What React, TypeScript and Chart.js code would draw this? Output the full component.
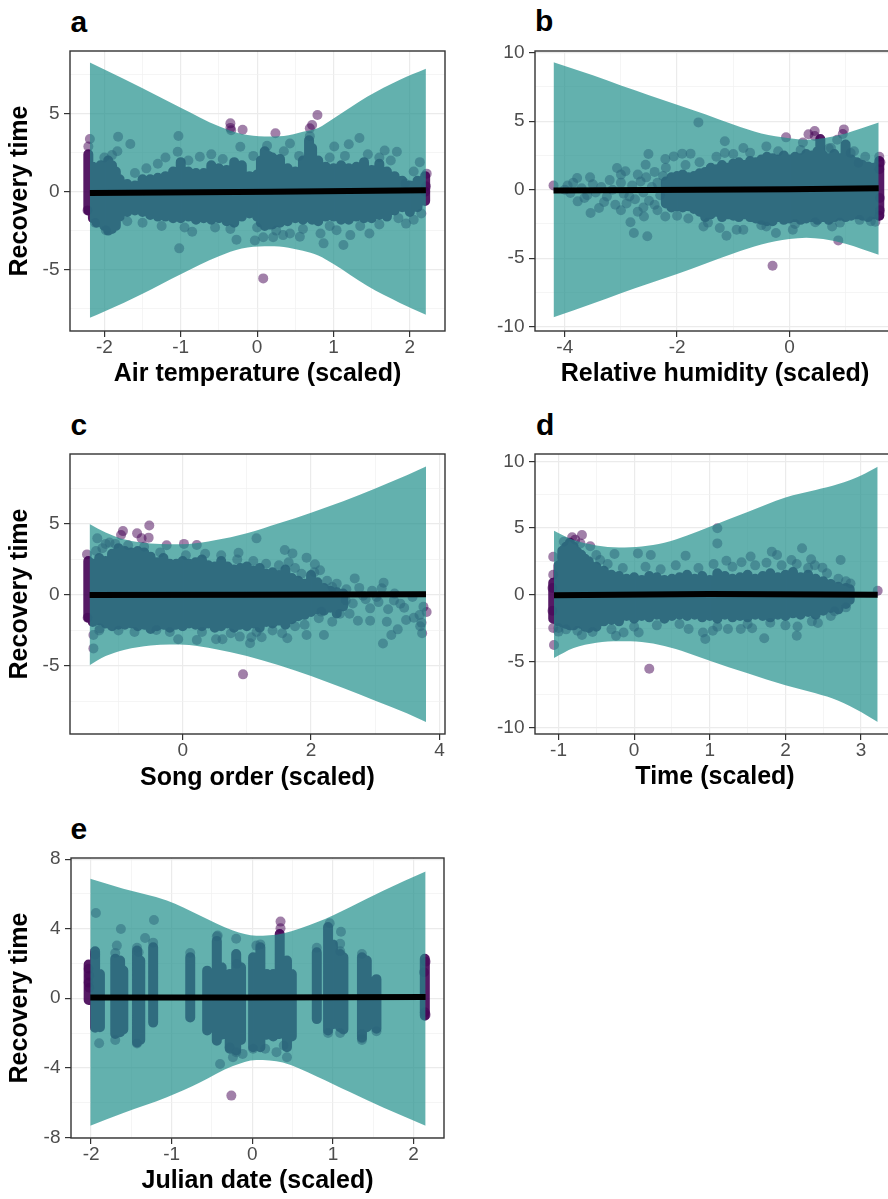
import React, { useEffect, useRef } from "react";
import { Chart, registerables } from "chart.js";
Chart.register(...registerables);

const FONT = '"Liberation Sans", Arial, Helvetica, sans-serif';
Chart.defaults.font.family = FONT;

const POINT_COLOR = "rgba(68,1,84,0.5)";
const CLOUD_COLOR = "rgba(68,1,84,0.9)";
const RIBBON_COLOR = "rgba(33,144,140,0.7)";

type Pair = [number, number];
type Triple = [number, number, number];

const Y_TITLE = "Recovery time";

// ---------------- Panel a : Air temperature ----------------
const aXTitle = "Air temperature (scaled)";
const aXRange: Pair = [-2.45, 2.46];
const aYRange: Pair = [-8.95, 9.04];
const aXMajor = [-2, -1, 0, 1, 2];
const aXMinor = [-1.5, -0.5, 0.5, 1.5];
const aYMajor = [-5, 0, 5];
const aYMinor = [-7.5, -2.5, 2.5, 7.5];
// [x, lower, upper]
const aRibbon: Triple[] = [
  [-2.19, -8.1, 8.3], [-2.0, -7.7, 7.85], [-1.5, -6.55, 6.65], [-1.0, -5.3, 5.4], [-0.5, -4.15, 4.2],
  [-0.2, -3.65, 3.7], [0.1, -3.5, 3.55], [0.35, -3.55, 3.58], [0.6, -3.8, 3.85], [0.8, -4.1, 4.1],
  [1.0, -4.65, 4.7], [1.44, -6.05, 6.1], [1.87, -7.15, 7.2], [2.21, -7.9, 7.9],
];
const aFit: Pair[] = [[-2.19, -0.08], [0.2, 0.0], [2.21, 0.1]];
// dense cloud columns [x, low, high]
const aCloud: Triple[] = [
  [-2.21, -1.2, 2.4], [-2.15, -1.7, 1.6], [-2.1, -2.0, 1.3], [-2.05, -1.9, 1.7], [-2.0, -2.2, 1.5],
  [-1.95, -2.5, 2.0], [-1.9, -2.4, 1.7], [-1.85, -2.2, 1.3], [-1.8, -1.6, 0.8], [-1.7, -1.3, 0.5],
  [-1.6, -1.2, 0.4], [-1.5, -1.3, 0.8], [-1.4, -1.5, 0.8], [-1.3, -1.6, 0.9], [-1.2, -1.6, 1.0],
  [-1.1, -1.7, 1.3], [-1.0, -1.7, 1.9], [-0.9, -1.6, 1.3], [-0.8, -1.8, 1.2], [-0.7, -1.7, 1.2],
  [-0.6, -1.8, 1.7], [-0.5, -1.7, 1.5], [-0.4, -1.9, 1.4], [-0.3, -2.0, 1.9], [-0.2, -1.6, 1.7],
  [-0.1, -1.4, 1.0], [0.0, -1.6, 1.1], [0.05, -2.0, 2.0], [0.1, -2.2, 2.6], [0.15, -2.1, 2.3],
  [0.2, -2.1, 2.2], [0.3, -2.0, 2.1], [0.4, -1.9, 1.5], [0.5, -1.7, 1.3], [0.6, -1.8, 2.0],
  [0.68, -1.6, 3.3], [0.72, -1.8, 2.8], [0.8, -1.9, 2.0], [0.9, -1.6, 1.6], [1.0, -1.6, 1.5],
  [1.1, -1.8, 1.7], [1.2, -1.8, 1.5], [1.3, -1.6, 1.6], [1.4, -1.7, 1.9], [1.5, -1.7, 1.4],
  [1.6, -1.5, 1.8], [1.7, -1.6, 1.3], [1.8, -1.2, 1.0], [1.9, -1.0, 0.7], [2.0, -1.3, 0.4],
  [2.1, -1.0, 0.7], [2.2, -0.6, 1.0],
];
const aPoints: Pair[] = [
  [-0.35, 4.39], [-0.35, 4.1], [-0.34, 3.95], [-0.19, 3.98], [0.24, 3.76], [0.69, 4.07], [0.72, 4.29],
  [0.79, 4.93], [0.08, -5.57], [2.22, 1.16], [2.2, 0.0], [2.21, 0.35], [-2.19, 3.39], [-2.21, 2.9], [-2.22, -1.2],
  [-1.82, 3.53], [-1.66, 3.07], [-1.83, 2.6], [-1.03, 3.58], [-1.04, 2.57], [-0.75, 2.25], [-0.22, 2.89],
  [0.13, 2.95], [0.43, 3.1], [0.69, 3.57], [1.01, 2.9], [1.34, 3.45], [1.2, 3.05], [1.83, 2.57], [1.67, 2.65],
  [2.13, 1.9], [1.94, 0.53], [-2.12, -1.99], [-1.98, -2.47], [-1.02, -3.64], [-0.85, -2.57], [-0.27, -3.08],
  [-0.03, -3.13], [0.08, -2.93], [0.21, -2.93], [0.34, -2.79], [0.43, -2.68], [0.87, -3.32], [0.83, -2.68],
  [1.04, -2.47], [1.13, -3.43], [1.22, -2.79], [1.47, -2.68], [1.95, -2.05], [0.56, -2.9],
  [-1.6, 1.2], [-1.45, 1.5], [-1.3, 1.8], [-1.2, 2.2], [-0.9, 2.0], [-0.6, 2.4], [-0.45, 2.1], [-0.05, 2.3],
  [0.35, 2.6], [0.55, 2.3], [0.95, 2.2], [1.15, 2.3], [1.45, 2.4], [1.6, 2.2], [1.75, 2.0], [2.05, 1.3],
  [-1.7, -1.9], [-1.5, -2.0], [-1.25, -2.2], [-0.95, -2.3], [-0.55, -2.3], [-0.35, -2.4], [0.25, -2.5],
  [0.6, -2.4], [0.95, -2.2], [1.35, -2.2], [1.6, -2.1], [1.85, -1.7], [2.05, -1.8], [2.15, -1.4],
  [-2.0, 2.2], [-1.9, 2.35], [0.0, -2.3],
];

// ---------------- Panel b : Relative humidity ----------------
const bXTitle = "Relative humidity (scaled)";
const bXRange: Pair = [-4.53, 1.88];
const bYRange: Pair = [-10.31, 10.12];
const bXMajor = [-4, -2, 0];
const bXMinor = [-3, -1, 1];
const bYMajor = [-10, -5, 0, 5, 10];
const bYMinor = [-7.5, -2.5, 2.5, 7.5];
const bRibbon: Triple[] = [
  [-4.2, -9.3, 9.3], [-3.5, -8.3, 8.35], [-3.0, -7.55, 7.6], [-2.5, -6.85, 6.9], [-2.0, -6.15, 6.2],
  [-1.5, -5.4, 5.5], [-1.0, -4.65, 4.75], [-0.5, -4.0, 4.1], [0.0, -3.6, 3.75], [0.3, -3.5, 3.65],
  [0.6, -3.6, 3.75], [1.0, -3.95, 4.1], [1.3, -4.35, 4.5], [1.59, -4.75, 4.9],
];
const bFit: Pair[] = [[-4.2, -0.05], [0.0, 0.03], [1.59, 0.1]];
const bCloud: Triple[] = [
  [-2.2, -1.0, 0.6], [-2.1, -1.3, 0.9], [-2.0, -1.2, 1.0], [-1.9, -1.3, 1.1], [-1.8, -1.2, 0.9],
  [-1.7, -1.4, 1.0], [-1.6, -1.6, 1.2], [-1.5, -2.0, 1.3], [-1.4, -1.8, 1.6], [-1.3, -1.6, 1.5],
  [-1.2, -2.0, 1.8], [-1.1, -1.8, 1.6], [-1.0, -1.9, 1.9], [-0.9, -2.0, 2.0], [-0.8, -1.8, 1.8],
  [-0.7, -2.0, 2.1], [-0.6, -2.1, 2.0], [-0.5, -2.2, 2.2], [-0.4, -2.3, 2.4], [-0.3, -2.3, 2.3],
  [-0.2, -2.0, 2.2], [-0.1, -2.2, 2.5], [0.0, -2.1, 2.2], [0.1, -2.0, 2.4], [0.2, -2.2, 2.3],
  [0.3, -2.1, 2.6], [0.4, -2.0, 2.5], [0.5, -2.2, 2.8], [0.55, -2.0, 3.7], [0.6, -2.0, 2.5],
  [0.7, -2.2, 2.3], [0.8, -2.0, 2.6], [0.9, -1.9, 2.3], [1.0, -2.0, 3.3], [1.1, -1.9, 2.2],
  [1.2, -1.8, 2.0], [1.3, -1.9, 1.8], [1.4, -2.0, 1.7], [1.5, -1.8, 1.6], [1.6, -1.9, 2.1],
];
const bPoints: Pair[] = [
  [-4.2, 0.31], [-1.62, 4.91], [-0.06, 3.82], [0.34, 4.04], [0.45, 4.28], [0.45, 3.92], [0.97, 4.4],
  [0.95, 4.07], [-0.3, -5.55], [0.87, -3.7], [1.6, 2.4], [1.62, 2.0], [1.6, -1.9], [1.61, -1.5],
  [1.6, 1.5], [1.61, -0.6],
  [-3.78, 0.85], [-3.9, -0.24], [-3.77, -0.85], [-3.54, -1.7], [-3.39, -1.34], [-3.07, 1.58],
  [-2.92, 1.34], [-2.83, -2.38], [-2.77, -3.16], [-2.53, -3.4], [-2.59, -1.95], [-2.56, 1.82],
  [-2.51, 2.6], [-2.21, 2.24], [-2.06, 2.43], [-1.91, 2.63], [-1.76, 2.63], [-2.21, -1.95],
  [-1.53, -2.68], [-1.24, -2.8], [-1.12, -3.36], [-1.15, 3.53], [-1.15, 2.68], [-0.94, -2.92],
  [-0.82, -2.92], [-0.82, 3.04], [-0.41, 3.16], [-0.41, -2.68], [-0.24, -3.16], [0.24, 3.45],
  [0.06, -2.92], [0.46, -2.38], [0.74, 3.04], [0.85, 3.65], [1.09, 2.68], [1.23, 1.95],
  [0.76, -2.68], [1.53, -2.34],
  [-4.0, 0.0], [-3.85, 0.5], [-3.6, -0.4], [-3.3, -0.9], [-3.2, 0.7], [-3.0, 1.1], [-2.85, -0.5],
  [-2.7, 1.1], [-2.6, -1.3], [-2.4, 1.3], [-2.35, -1.5], [-2.2, 1.6], [-2.0, -1.9], [-1.85, 1.8],
  [-1.8, -2.1], [-1.6, 2.0], [-1.45, -2.4], [-1.3, 2.4], [-1.0, 2.6], [-0.7, 2.7], [-0.5, -2.6],
  [-0.2, 2.8], [0.1, -2.5], [0.2, 2.9], [0.7, 3.0], [1.15, 2.8], [1.35, 2.4], [1.45, -2.3],
  [0.9, -2.4], [1.25, -2.2],
  [-3.95, 0.3], [-3.7, 0.1], [-3.65, -0.6], [-3.5, 0.4], [-3.45, -0.2], [-3.35, 0.2], [-3.25, -0.5],
  [-3.15, 0.0], [-3.1, -1.1], [-3.0, 0.5], [-2.95, -0.3], [-2.9, -1.0], [-2.8, 0.3], [-2.75, -0.7],
  [-2.65, 0.6], [-2.6, -0.2], [-2.55, 0.9], [-2.5, -0.8], [-2.45, 0.2], [-2.4, -1.1], [-2.35, 0.5],
  [-2.3, -0.4], [-2.25, 1.0], [-3.55, 0.9], [-3.0, -1.5], [-2.7, -1.6],
];

// ---------------- Panel c : Song order ----------------
const cXTitle = "Song order (scaled)";
const cXRange: Pair = [-1.755, 4.086];
const cYRange: Pair = [-9.79, 9.93];
const cXMajor = [0, 2, 4];
const cXMinor = [-1, 1, 3];
const cYMajor = [-5, 0, 5];
const cYMinor = [-7.5, -2.5, 2.5, 7.5];
const cRibbon: Triple[] = [
  [-1.45, -4.95, 5.0], [-1.2, -4.3, 4.4], [-0.9, -3.85, 3.9], [-0.5, -3.55, 3.62], [-0.2, -3.48, 3.58],
  [0.1, -3.52, 3.6], [0.5, -3.8, 3.85], [1.0, -4.3, 4.35], [1.5, -4.95, 5.05], [2.0, -5.7, 5.8],
  [2.5, -6.55, 6.6], [3.0, -7.45, 7.5], [3.5, -8.35, 8.45], [3.79, -8.95, 9.05],
];
const cFit: Pair[] = [[-1.45, 0.0], [1.0, 0.02], [3.79, 0.05]];
const cCloud: Triple[] = [
  [-1.47, -1.6, 2.4], [-1.4, -1.9, 2.2], [-1.3, -1.8, 2.6], [-1.2, -2.0, 2.4], [-1.1, -2.2, 2.9],
  [-1.0, -2.1, 3.3], [-0.9, -2.1, 3.1], [-0.8, -2.0, 3.0], [-0.7, -2.2, 3.1], [-0.6, -2.1, 3.0],
  [-0.5, -2.4, 2.7], [-0.4, -2.2, 2.3], [-0.3, -2.1, 2.6], [-0.2, -2.3, 2.2], [-0.1, -2.1, 2.2],
  [0.0, -2.2, 2.4], [0.1, -2.0, 2.2], [0.2, -2.1, 2.3], [0.3, -2.2, 2.5], [0.4, -2.0, 2.1],
  [0.5, -2.3, 2.0], [0.6, -2.2, 2.4], [0.7, -2.0, 2.0], [0.8, -2.3, 1.8], [0.9, -2.1, 1.9],
  [1.0, -2.2, 2.0], [1.1, -2.0, 1.7], [1.2, -2.3, 1.9], [1.3, -1.9, 1.5], [1.4, -2.0, 1.6],
  [1.5, -1.8, 1.4], [1.6, -2.1, 1.8], [1.7, -1.7, 1.2], [1.8, -1.5, 1.0], [1.9, -1.4, 0.8],
  [2.0, -1.2, 1.4], [2.1, -1.0, 0.9], [2.2, -1.1, 0.5], [2.3, -0.9, 0.3], [2.4, -1.3, 0.2],
  [2.5, -0.8, 0.1],
];
const cPoints: Pair[] = [
  [-0.93, 4.5], [-0.96, 4.22], [-0.71, 4.34], [-0.64, 3.99], [-0.52, 4.9], [-0.53, 4.04], [0.94, -5.59],
  [3.8, -1.2], [3.75, -0.83], [-0.25, 3.5], [0.02, 3.6], [0.22, 3.52], [-1.49, 2.86], [-1.48, -1.6],
  [-1.33, 3.99], [-1.2, 3.6], [-1.14, 3.69], [-1.39, -2.82], [-1.39, -3.76], [-1.29, -2.35], [-0.41, -2.46],
  [-0.07, -3.12], [0.22, -3.17], [0.52, -3.12], [0.62, -3.12], [0.89, -2.93], [1.07, -2.98], [1.23, -2.98],
  [1.05, -3.4], [1.59, 3.17], [1.71, 2.93], [1.93, 2.63], [1.15, 3.99], [0.87, 2.98], [1.63, -3.05],
  [1.93, -2.82], [2.2, -2.82], [2.06, 2.16], [2.14, 1.74], [2.68, 1.17], [3.13, 0.87], [3.1, 0.47],
  [2.92, -0.94], [2.92, -1.81], [3.18, -1.88], [3.12, -3.41], [3.25, -2.82], [3.35, -2.42], [3.48, -1.76],
  [3.73, -2.7], [3.72, -1.95], [3.69, -1.41], [3.58, -0.14], [3.39, -0.61], [2.6, -1.32], [2.73, -1.81],
  [2.54, -0.38], [2.33, 0.56], [2.45, -1.32], [2.81, -0.05], [3.02, -0.14], [3.29, -0.38], [2.33, -1.88],
  [2.12, -1.64], [2.16, -1.17],
  [-1.35, 3.1], [-1.25, 3.3], [-1.05, 3.6], [-0.85, 3.5], [-0.6, 3.4], [-0.35, 3.0], [0.05, 2.8],
  [0.35, 2.9], [0.6, 2.8], [0.85, 2.5], [1.1, 2.4], [1.3, 2.2], [1.5, 2.1], [1.65, 2.3], [1.75, 1.9],
  [1.85, 1.5], [-1.3, -2.5], [-1.0, -2.5], [-0.75, -2.6], [-0.2, -2.6], [0.3, -2.6], [0.75, -2.7],
  [1.15, -2.6], [1.4, -2.5], [1.55, -2.7], [1.75, -2.2], [1.9, -2.1], [2.05, 1.6], [2.25, 1.0],
  [2.4, 0.8], [2.55, 0.4], [2.65, -0.6], [2.75, 0.5], [2.85, -0.3], [2.95, 0.3], [3.05, -0.5],
  [3.2, -1.0], [3.3, 0.1], [3.45, -0.9], [3.6, -1.6], [3.7, -2.2],
];

// ---------------- Panel d : Time ----------------
const dXTitle = "Time (scaled)";
const dXRange: Pair = [-1.311, 3.449];
const dYRange: Pair = [-10.45, 10.555];
const dXMajor = [-1, 0, 1, 2, 3];
const dXMinor = [-0.5, 0.5, 1.5, 2.5];
const dYMajor = [-10, -5, 0, 5, 10];
const dYMinor = [-7.5, -2.5, 2.5, 7.5];
const dRibbon: Triple[] = [
  [-1.06, -4.75, 4.8], [-0.8, -4.0, 4.1], [-0.5, -3.6, 3.7], [-0.2, -3.5, 3.55], [0.1, -3.55, 3.62],
  [0.4, -3.85, 3.9], [0.7, -4.35, 4.45], [1.0, -4.95, 5.1], [1.5, -5.9, 6.2], [2.0, -6.8, 7.3],
  [2.4, -7.4, 7.85], [2.7, -7.95, 8.3], [3.0, -8.8, 8.95], [3.22, -9.55, 9.6],
];
const dFit: Pair[] = [[-1.06, -0.05], [1.0, 0.05], [3.22, 0.0]];
const dCloud: Triple[] = [
  [-1.07, -1.8, 0.9], [-1.0, -2.0, 2.2], [-0.95, -2.1, 3.3], [-0.9, -2.2, 3.6], [-0.85, -2.3, 3.9],
  [-0.8, -2.3, 3.6], [-0.75, -2.1, 3.2], [-0.7, -2.2, 3.0], [-0.65, -2.4, 2.7], [-0.6, -2.5, 2.5],
  [-0.5, -2.4, 2.1], [-0.4, -2.0, 1.8], [-0.3, -1.9, 1.5], [-0.2, -2.0, 1.4], [-0.1, -1.6, 1.2],
  [0.0, -1.8, 1.3], [0.1, -1.6, 1.1], [0.2, -1.7, 1.4], [0.3, -1.5, 1.3], [0.4, -1.8, 1.1],
  [0.5, -1.6, 1.2], [0.6, -1.5, 1.3], [0.7, -1.6, 1.5], [0.8, -1.5, 1.2], [0.9, -1.7, 1.4],
  [1.0, -1.6, 1.1], [1.1, -1.8, 1.6], [1.2, -1.5, 1.4], [1.3, -1.7, 1.2], [1.4, -1.6, 1.3],
  [1.5, -1.7, 1.5], [1.6, -1.5, 1.2], [1.7, -1.6, 1.4], [1.8, -1.7, 1.6], [1.9, -1.5, 1.3],
  [2.0, -1.6, 1.5], [2.1, -1.4, 1.7], [2.2, -1.5, 1.3], [2.3, -1.3, 1.5], [2.4, -1.5, 1.2],
  [2.5, -1.2, 1.0], [2.6, -1.0, 0.8], [2.7, -1.1, 0.6], [2.8, -0.7, 0.5], [2.85, -0.4, 0.4],
];
const dPoints: Pair[] = [
  [-0.82, 4.31], [-0.69, 4.48], [-0.78, 4.13], [1.1, 4.98], [0.2, -5.55], [3.22, 0.3], [-1.06, -3.77],
  [-1.07, 2.85], [-1.07, 1.5], [-1.07, -2.5], [-1.08, 0.5], [-1.08, -1.2],
  [-0.58, 3.63], [-0.93, 3.97], [-0.71, 3.85], [1.1, 3.85], [2.22, 3.48], [1.82, 3.23], [1.89, 2.98],
  [2.73, 2.6], [2.34, 2.65], [2.08, 2.6], [1.22, 2.55], [0.22, 2.98], [0.05, 3.1], [-0.26, 3.05],
  [-0.5, 2.98], [0.68, 2.93], [1.42, 2.43], [-1.0, -2.77], [-0.69, -3.02], [-0.24, -3.08], [-0.14, -2.83],
  [0.06, -2.83], [0.72, -2.57], [0.91, -2.83], [0.94, -3.33], [1.04, -2.7], [1.24, -2.57], [1.41, -2.57],
  [1.72, -3.27], [1.56, -2.52], [2.15, -3.08], [2.16, -2.38], [2.43, -2.12], [2.65, -1.24], [2.8, -0.95],
  [2.86, 0.84], [2.49, 2.03], [2.39, 2.21], [1.54, 2.86],
  [-1.0, -2.5], [-0.9, -2.6], [-0.75, -2.7], [-0.55, -2.8], [-0.45, 2.6], [-0.35, 2.3], [-0.15, 2.0],
  [0.15, 2.1], [0.35, 1.9], [0.55, 2.2], [0.85, 2.0], [1.05, 2.3], [1.3, 2.1], [1.6, 2.2], [1.75, 2.4],
  [1.95, 2.2], [2.15, 2.3], [2.3, 2.0], [2.55, 1.6], [2.7, 1.2], [2.8, 1.0], [2.6, -1.6], [2.35, -2.0],
  [2.0, -2.3], [1.8, -2.1], [1.5, -2.2], [1.1, -2.4], [0.6, -2.2], [0.3, -2.3], [0.0, -2.4], [-0.3, -2.6],
];

// ---------------- Panel e : Julian date ----------------
const eXTitle = "Julian date (scaled)";
const eXRange: Pair = [-2.249, 2.378];
const eYRange: Pair = [-8.04, 8.07];
const eXMajor = [-2, -1, 0, 1, 2];
const eXMinor = [-1.5, -0.5, 0.5, 1.5];
const eYMajor = [-8, -4, 0, 4, 8];
const eYMinor = [-6, -2, 2, 6];
const eRibbon: Triple[] = [
  [-2.01, -7.33, 6.87], [-1.6, -6.6, 6.3], [-1.06, -5.7, 5.62], [-0.65, -4.85, 4.76], [-0.24, -3.9, 3.9],
  [0.05, -3.55, 3.6], [0.38, -3.7, 3.73], [0.8, -4.5, 4.37], [1.21, -5.4, 5.24], [1.63, -6.3, 6.2],
  [2.15, -7.33, 7.29],
];
const eFit: Pair[] = [[-2.01, 0.05], [0.0, 0.05], [2.15, 0.07]];
const eCloud: Triple[] = [
  [-2.03, -0.1, 1.94], [-1.95, -1.7, 2.7], [-1.89, -1.67, 1.4], [-1.7, -2.06, 2.27], [-1.64, -1.96, 2.17],
  [-1.6, -1.8, 1.6], [-1.43, -2.54, 2.75], [-1.39, -2.4, 2.17], [-1.23, -1.4, 2.94], [-0.77, -1.1, 2.36],
  [-0.56, -1.86, 1.59], [-0.44, -2.44, 3.3], [-0.38, -2.1, 1.78], [-0.28, -2.9, 1.4], [-0.2, -3.0, 2.55],
  [-0.14, -2.4, 1.78], [0.01, -2.82, 2.36], [0.1, -2.82, 2.94], [0.18, -2.1, 1.4], [0.26, -2.2, 1.4],
  [0.34, -2.06, 3.7], [0.43, -2.82, 2.17], [0.49, -2.2, 1.4], [0.8, -1.2, 2.65], [0.94, -1.86, 4.1],
  [1.0, -1.5, 3.1], [1.09, -1.67, 2.55], [1.13, -1.8, 2.36], [1.36, -2.25, 2.36], [1.42, -1.67, 2.17],
  [1.54, -1.75, 1.1], [2.14, -1.0, 2.27],
];
const ePoints: Pair[] = [
  [-1.94, 4.91], [-1.63, 3.99], [-1.68, 3.03], [-1.33, 3.47], [-1.22, 4.5], [-1.41, 2.65], [-1.9, -2.59],
  [-0.43, 3.61], [-0.4, -3.78], [-0.28, -2.82], [-0.24, -3.39], [-0.12, -3.2], [0.16, -2.91], [0.3, -3.1],
  [0.43, -3.39], [0.39, -2.72], [-0.2, 3.42], [0.05, 3.03], [0.35, 4.41], [0.35, 4.03], [0.96, 4.32],
  [1.1, 3.83], [1.09, 3.13], [-0.26, -5.6], [1.36, -2.06], [1.36, -2.3], [-0.19, 1.98],
  [-2.03, 1.7], [-2.02, 0.6], [-2.03, 0.9], [-2.02, 1.3], [2.15, 2.1], [2.14, -0.8], [2.15, -0.95], [2.13, 1.5],
  [-1.95, 2.5], [-1.7, 2.6], [-1.43, 2.9], [-1.23, 3.2], [-0.77, 2.6], [-0.44, 3.55], [0.1, 3.1],
  [0.8, 2.9], [1.09, 2.7], [1.36, 2.55], [-1.43, -2.6], [-1.7, -2.4], [-0.2, -3.1], [0.01, -2.9],
  [1.36, -2.4], [1.09, -2.0], [0.94, -2.0], [1.54, -1.9],
];

// ---------------- layout of panels ----------------
interface Box { left: number; top: number; w: number; h: number; yW: number; xH: number; padTop: number; padRight: number; xTitlePad: number; }
interface PanelCfg {
  letter: string; letterPos: [number, number];
  ribbon: Triple[]; fit: Pair[]; cloud: Triple[]; points: Pair[];
  xMajor: number[]; xMinor: number[]; yMajor: number[]; yMinor: number[];
  xRange: Pair; yRange: Pair; xTitle: string; yTitle: string; box: Box;
}

const PANELS: PanelCfg[] = [
  { letter: "a", letterPos: [70.5, 6.6], ribbon: aRibbon, fit: aFit, cloud: aCloud, points: aPoints,
    xMajor: aXMajor, xMinor: aXMinor, yMajor: aYMajor, yMinor: aYMinor, xRange: aXRange, yRange: aYRange,
    xTitle: aXTitle, yTitle: Y_TITLE,
    box: { left: 0, top: 41, w: 450, h: 360, yW: 70, xH: 70, padTop: 10, padRight: 5, xTitlePad: 12 } },
  { letter: "b", letterPos: [535, 6.3], ribbon: bRibbon, fit: bFit, cloud: bCloud, points: bPoints,
    xMajor: bXMajor, xMinor: bXMinor, yMajor: bYMajor, yMinor: bYMinor, xRange: bXRange, yRange: bYRange,
    xTitle: bXTitle, yTitle: "",
    box: { left: 455, top: 41, w: 445, h: 360, yW: 80, xH: 70, padTop: 10, padRight: 3, xTitlePad: 11.5 } },
  { letter: "c", letterPos: [70.5, 409.6], ribbon: cRibbon, fit: cFit, cloud: cCloud, points: cPoints,
    xMajor: cXMajor, xMinor: cXMinor, yMajor: cYMajor, yMinor: cYMinor, xRange: cXRange, yRange: cYRange,
    xTitle: cXTitle, yTitle: Y_TITLE,
    box: { left: 0, top: 444, w: 450, h: 360, yW: 70, xH: 70, padTop: 10, padRight: 5, xTitlePad: 10.6 } },
  { letter: "d", letterPos: [536, 409.6], ribbon: dRibbon, fit: dFit, cloud: dCloud, points: dPoints,
    xMajor: dXMajor, xMinor: dXMinor, yMajor: dYMajor, yMinor: dYMinor, xRange: dXRange, yRange: dYRange,
    xTitle: dXTitle, yTitle: "",
    box: { left: 455, top: 444, w: 445, h: 360, yW: 80, xH: 70, padTop: 10, padRight: 2, xTitlePad: 11.5 } },
  { letter: "e", letterPos: [70.5, 813.6], ribbon: eRibbon, fit: eFit, cloud: eCloud, points: ePoints,
    xMajor: eXMajor, xMinor: eXMinor, yMajor: eYMajor, yMinor: eYMinor, xRange: eXRange, yRange: eYRange,
    xTitle: eXTitle, yTitle: Y_TITLE,
    box: { left: 0, top: 848, w: 450, h: 351, yW: 71, xH: 61, padTop: 10, padRight: 6, xTitlePad: 2.6 } },
];

const panelBorder = {
  id: "panelBorder",
  afterDatasetsDraw(chart: any) {
    const { ctx, chartArea } = chart;
    const { left, top, right, bottom } = chartArea;
    ctx.save();
    ctx.strokeStyle = "#333333";
    ctx.lineWidth = 1.4;
    ctx.strokeRect(left, top, right - left, bottom - top);
    ctx.restore();
  },
};

function Panel({ p }: { p: PanelCfg }) {
  const ref = useRef<HTMLCanvasElement>(null);
  useEffect(() => {
    const canvas = ref.current;
    if (!canvas) return;
    const xMaj = new Set(p.xMajor);
    const yMaj = new Set(p.yMajor);
    const xTicks = [...p.xMajor, ...p.xMinor].sort((a, b) => a - b);
    const yTicks = [...p.yMajor, ...p.yMinor].sort((a, b) => a - b);
    const cloud: any[] = [];
    p.cloud.forEach(([x, lo, hi]) => {
      cloud.push({ x, y: lo }, { x, y: hi }, { x, y: null });
    });
    const gridColor = (s: Set<number>) => (c: any) => (s.has(c.tick?.value) ? "#EBEBEB" : "#F1F1F1");
    const gridWidth = (s: Set<number>) => (c: any) => (s.has(c.tick?.value) ? 1.2 : 0.7);
    const tickCol = (s: Set<number>) => (c: any) => (s.has(c.tick?.value) ? "#333333" : "rgba(0,0,0,0)");
    const tickFont = { family: FONT, size: 19, lineHeight: 1 };
    const titleFont = { family: FONT, size: 25, weight: "bold" as const, lineHeight: 1.2 };
    const zeroPad = (s: any) => { s.paddingLeft = 0; s.paddingRight = 0; s.paddingTop = 0; s.paddingBottom = 0; };

    const chart = new Chart(canvas, {
      type: "scatter",
      data: {
        datasets: [
          { type: "line", data: p.fit.map(([x, y]) => ({ x, y })), borderColor: "#000000", borderWidth: 6,
            pointRadius: 0, fill: false, order: 0 } as any,
          { type: "line", data: p.ribbon.map(([x, lo]) => ({ x, y: lo })), borderColor: "rgba(0,0,0,0)",
            borderWidth: 1, pointRadius: 0, fill: false, cubicInterpolationMode: "monotone", order: 1 } as any,
          { type: "line", data: p.ribbon.map(([x, , hi]) => ({ x, y: hi })), borderColor: "rgba(0,0,0,0)",
            borderWidth: 1, pointRadius: 0, fill: "-1", backgroundColor: RIBBON_COLOR,
            cubicInterpolationMode: "monotone", order: 1 } as any,
          { type: "line", data: cloud, borderColor: CLOUD_COLOR, borderWidth: 10, borderCapStyle: "round",
            pointRadius: 0, fill: false, spanGaps: false, order: 2 } as any,
          { type: "scatter", data: p.points.map(([x, y]) => ({ x, y })), pointRadius: 5,
            pointBackgroundColor: POINT_COLOR, pointBorderWidth: 0, pointBorderColor: "rgba(0,0,0,0)",
            order: 3 } as any,
        ],
      },
      options: {
        animation: false,
        responsive: false,
        events: [],
        layout: { padding: { left: 0, top: p.box.padTop, right: p.box.padRight, bottom: 0 } },
        plugins: { legend: { display: false }, tooltip: { enabled: false } },
        scales: {
          x: {
            type: "linear", bounds: "data", min: p.xRange[0], max: p.xRange[1],
            afterBuildTicks: (s: any) => { s.ticks = xTicks.map((v) => ({ value: v })); },
            afterFit: (s: any) => { s.height = p.box.xH; zeroPad(s); },
            border: { display: false },
            grid: { color: gridColor(xMaj), lineWidth: gridWidth(xMaj), tickColor: tickCol(xMaj),
              tickWidth: 1.2, tickLength: 6, drawTicks: true },
            ticks: { autoSkip: false, maxRotation: 0, minRotation: 0, padding: 1, color: "#4D4D4D",
              font: tickFont, callback: (v: any) => (xMaj.has(v) ? String(v) : "") },
            title: { display: true, text: p.xTitle, color: "#000000", font: titleFont,
              padding: { top: 0, bottom: p.box.xTitlePad } },
          },
          y: {
            type: "linear", bounds: "data", min: p.yRange[0], max: p.yRange[1],
            afterBuildTicks: (s: any) => { s.ticks = yTicks.map((v) => ({ value: v })); },
            afterFit: (s: any) => { s.width = p.box.yW; zeroPad(s); },
            border: { display: false },
            grid: { color: gridColor(yMaj), lineWidth: gridWidth(yMaj), tickColor: tickCol(yMaj),
              tickWidth: 1.2, tickLength: 6, drawTicks: true },
            ticks: { autoSkip: false, padding: 4.5, color: "#4D4D4D", font: tickFont,
              callback: (v: any) => (yMaj.has(v) ? String(v) : "") },
            title: { display: p.yTitle !== "", text: p.yTitle, color: "#000000", font: titleFont,
              padding: { top: 5.5, bottom: 0 } },
          },
        },
      } as any,
      plugins: [panelBorder],
    });
    return () => chart.destroy();
  }, [p]);

  return (
    <canvas
      ref={ref}
      width={p.box.w}
      height={p.box.h}
      style={{ position: "absolute", left: p.box.left, top: p.box.top, width: p.box.w, height: p.box.h }}
    />
  );
}

export default function App() {
  return (
    <div
      style={{
        position: "absolute", left: 0, top: 0, width: 888, height: 1199,
        overflow: "hidden", background: "#ffffff",
      }}
    >
      {PANELS.map((p) => (
        <React.Fragment key={p.letter}>
          <Panel p={p} />
          <div
            style={{
              position: "absolute", left: p.letterPos[0], top: p.letterPos[1],
              fontFamily: FONT, fontWeight: "bold", fontSize: 30, lineHeight: "30px", color: "#000",
            }}
          >
            {p.letter}
          </div>
        </React.Fragment>
      ))}
    </div>
  );
}
